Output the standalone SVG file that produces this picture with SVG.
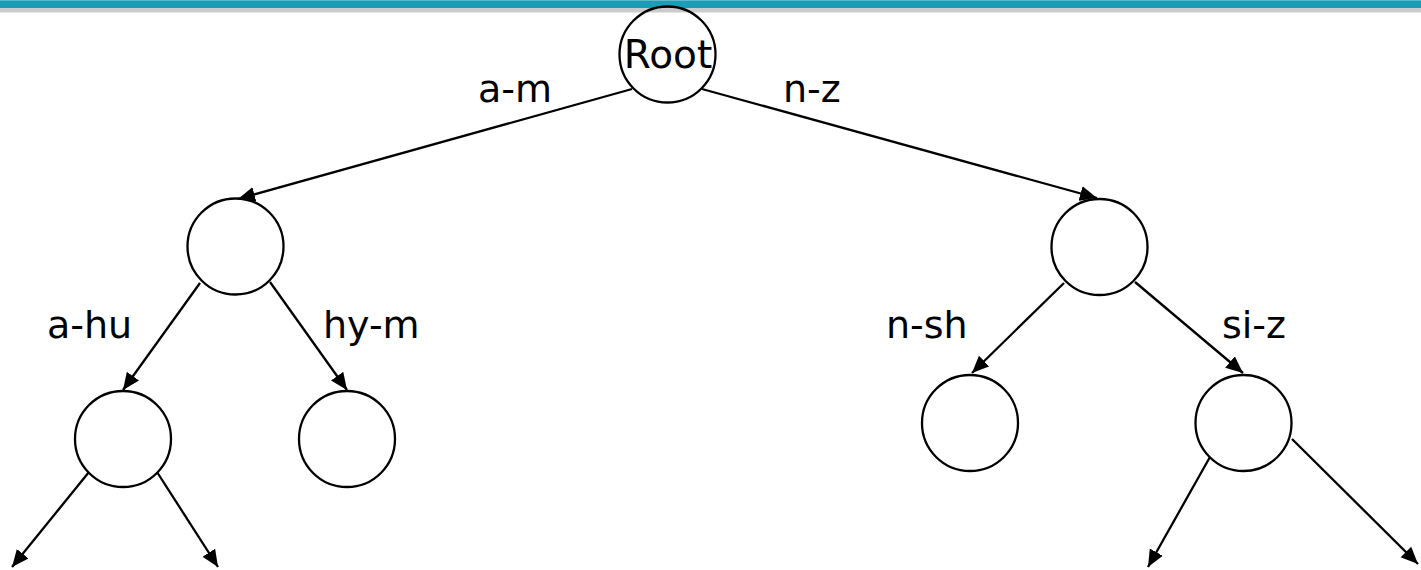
<svg xmlns="http://www.w3.org/2000/svg" width="1421" height="570" viewBox="0 0 1421 570">
<style>
.node{fill:none;stroke:#000;stroke-width:2.3}
.edge{stroke:#000;stroke-width:2.3;fill:none}
.lbl{font-family:"DejaVu Sans","Verdana",sans-serif;font-size:38px;fill:#000}
</style>
<defs>
<marker id="ah" markerUnits="userSpaceOnUse" markerWidth="18" markerHeight="16" refX="17" refY="8" orient="auto">
<path d="M0,0.5 L17,8 L0,15.5 z" fill="#000"/>
</marker>
</defs>
<rect x="0" y="0" width="1421" height="570" fill="#fff"/>
<g id="topbar">
<rect x="0" y="0" width="1421" height="1" fill="#5cb9cb"/>
<rect x="0" y="1" width="1421" height="7" fill="#1b9db6"/>
<rect x="0" y="8" width="1421" height="4" fill="#cbcbcb"/>
<rect x="0" y="12" width="1421" height="1" fill="#e6e6e6"/>
</g>
<g id="connectors">
<line class="edge" x1="632" y1="89" x2="238" y2="199" marker-end="url(#ah)"/>
<line class="edge" x1="702" y1="89" x2="1097" y2="198" marker-end="url(#ah)"/>
<line class="edge" x1="200" y1="283" x2="123" y2="390" marker-end="url(#ah)"/>
<line class="edge" x1="270" y1="282" x2="347" y2="390" marker-end="url(#ah)"/>
<line class="edge" x1="89" y1="472" x2="12" y2="567" marker-end="url(#ah)"/>
<line class="edge" x1="157" y1="472" x2="218" y2="567" marker-end="url(#ah)"/>
<line class="edge" x1="1064" y1="283" x2="972" y2="373" marker-end="url(#ah)"/>
<line class="edge" x1="1135" y1="282" x2="1243" y2="373" marker-end="url(#ah)"/>
<line class="edge" x1="1210" y1="457" x2="1148" y2="567" marker-end="url(#ah)"/>
<line class="edge" x1="1292" y1="439" x2="1418" y2="564" marker-end="url(#ah)"/>
</g>
<g id="labels">
<text class="lbl" x="478" y="102">a-m</text>
<text class="lbl" x="783" y="102">n-z</text>
<text class="lbl" x="47" y="338">a-hu</text>
<text class="lbl" x="323" y="338">hy-m</text>
<text class="lbl" x="886" y="338">n-sh</text>
<text class="lbl" x="1222" y="338">si-z</text>
</g>
<g id="root">
<circle class="node" cx="667.5" cy="54.5" r="48"/>
<text class="lbl" x="668" y="68" text-anchor="middle" style="font-size:39px">Root</text>
</g>
<g id="n_am"><circle class="node" cx="235.5" cy="246.5" r="48"/></g>
<g id="n_nz"><circle class="node" cx="1099.5" cy="247" r="48"/></g>
<g id="n_ahu"><circle class="node" cx="123" cy="439" r="48"/></g>
<g id="n_hym"><circle class="node" cx="347" cy="439" r="48"/></g>
<g id="n_nsh"><circle class="node" cx="970" cy="423" r="48"/></g>
<g id="n_siz"><circle class="node" cx="1243.5" cy="423" r="48"/></g>
</svg>
